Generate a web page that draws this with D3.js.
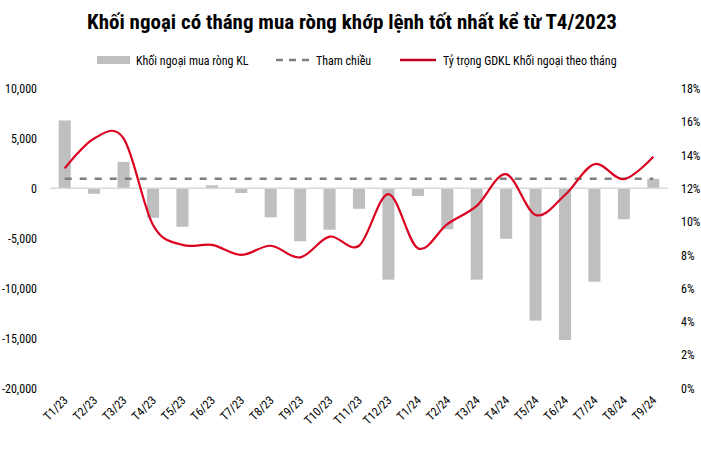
<!DOCTYPE html>
<html>
<head>
<meta charset="utf-8">
<script src="https://cdn.jsdelivr.net/npm/d3@7"></script>
<style>
  html, body { margin: 0; padding: 0; background: #fff; }
  svg { display: block; }
  text { font-family: "Liberation Sans Narrow", "Arial Narrow", "Roboto Condensed", "Liberation Sans", Arial, sans-serif; fill: #000; }
</style>
</head>
<body>
<svg id="chart" width="701" height="451"></svg>
<script>
// ---- data ----
const categories = ["T1/23","T2/23","T3/23","T4/23","T5/23","T6/23","T7/23","T8/23","T9/23","T10/23","T11/23","T12/23",
                    "T1/24","T2/24","T3/24","T4/24","T5/24","T6/24","T7/24","T8/24","T9/24"];
// Khối ngoại mua ròng KL (tỷ đồng)
const netBuy = [6800, -550, 2650, -2950, -3850, 300, -470, -2900, -5300, -4150, -2050, -9150,
                -770, -4100, -9150, -5050, -13250, -15200, -9350, -3100, 950];
// Tham chiếu (constant reference level)
const reference = categories.map(() => 950);
// Tỷ trọng GDKL Khối ngoại theo tháng (%)
const share = [13.2, 15.0, 15.0, 9.8, 8.6, 8.6, 8.0, 8.55, 7.85, 9.1, 8.55, 11.65,
               8.4, 9.85, 10.95, 12.85, 10.4, 11.6, 13.45, 12.55, 13.9];
const leftTicks = [10000, 5000, 0, -5000, -10000, -15000, -20000];
const leftTickLabels = ["10,000", "5,000", "0", "-5,000", "-10,000", "-15,000", "-20,000"];
const rightTicks = [0, 2, 4, 6, 8, 10, 12, 14, 16, 18];
const rightTickLabels = ["0%", "2%", "4%", "6%", "8%", "10%", "12%", "14%", "16%", "18%"];
const titleText = "Khối ngoại có tháng mua ròng khớp lệnh tốt nhất kể từ T4/2023";
const legendLabels = ["Khối ngoại mua ròng KL", "Tham chiều", "Tỷ trọng GDKL Khối ngoại theo tháng"];

// ---- layout ----
const svg = d3.select("#chart");
const plotLeft = 50, plotRight = 668, plotTop = 88.5, plotBottom = 388;

const x = d3.scaleBand().domain(categories).range([plotLeft, plotRight])
  .paddingInner(0.59).paddingOuter(0.295);
const yL = d3.scaleLinear().domain([-20000, 10000]).range([plotBottom, plotTop]);
const yR = d3.scaleLinear().domain([0, 18]).range([plotBottom, plotTop]);
const cx = d => x(d) + x.bandwidth() / 2;

// title
svg.append("text")
  .attr("x", 352).attr("y", 29)
  .attr("text-anchor", "middle")
  .style("font-size", "21px").style("font-weight", "bold")
  .text(titleText);

// legend
const lg = svg.append("g");
lg.append("rect").attr("x", 97).attr("y", 56).attr("width", 33).attr("height", 8).attr("fill", "#bfbfbf");
lg.append("text").attr("x", 136).attr("y", 64.5).style("font-size", "12px").text(legendLabels[0]);
lg.append("line").attr("x1", 276).attr("x2", 311).attr("y1", 60).attr("y2", 60)
  .attr("stroke", "#7f7f7f").attr("stroke-width", 2.5).attr("stroke-dasharray", "7,6");
lg.append("text").attr("x", 316).attr("y", 64.5).style("font-size", "12px").text(legendLabels[1]);
lg.append("line").attr("x1", 400).attr("x2", 436).attr("y1", 60).attr("y2", 60)
  .attr("stroke", "#c00020").attr("stroke-width", 2.5);
lg.append("text").attr("x", 443).attr("y", 64.5).style("font-size", "12px").text(legendLabels[2]);

// left axis
const axL = d3.axisLeft(yL).tickValues(leftTicks).tickSize(0).tickPadding(0)
  .tickFormat((d, i) => leftTickLabels[leftTicks.indexOf(d)]);
const gL = svg.append("g").attr("transform", "translate(37,0)").call(axL);
gL.select(".domain").remove();
gL.selectAll("text").style("font-size", "12px").style("font-family", null).attr("fill", "#000").attr("dy", "0.35em");

// right axis
const axR = d3.axisRight(yR).tickValues(rightTicks).tickSize(0).tickPadding(0)
  .tickFormat(d => rightTickLabels[rightTicks.indexOf(d)]);
const gR = svg.append("g").attr("transform", "translate(681,0)").call(axR);
gR.select(".domain").remove();
gR.selectAll("text").style("font-size", "12px").style("font-family", null).attr("fill", "#000").attr("dy", "0.35em");

// bars
svg.append("g").selectAll("rect").data(categories).join("rect")
  .attr("x", d => x(d))
  .attr("width", x.bandwidth())
  .attr("y", (d, i) => yL(Math.max(0, netBuy[i])))
  .attr("height", (d, i) => Math.abs(yL(netBuy[i]) - yL(0)))
  .attr("fill", "#bfbfbf");

// zero line
svg.append("line").attr("x1", plotLeft).attr("x2", plotRight)
  .attr("y1", yL(0)).attr("y2", yL(0))
  .attr("stroke", "#d9d9d9").attr("stroke-width", 1.5);

// reference dashed line
svg.append("path")
  .attr("d", d3.line().x((d, i) => cx(categories[i])).y(d => yL(d))(reference))
  .attr("fill", "none").attr("stroke", "#7f7f7f").attr("stroke-width", 2.5)
  .attr("stroke-dasharray", "7,8");

// share line
svg.append("path")
  .attr("d", d3.line().curve(d3.curveCatmullRom.alpha(0))
    .x((d, i) => cx(categories[i])).y(d => yR(d))(share))
  .attr("fill", "none").attr("stroke", "#dc0020").attr("stroke-width", 2.2);

// x labels
svg.append("g").selectAll("text").data(categories).join("text")
  .attr("transform", d => `translate(${cx(d) + 4},${plotBottom + 13}) rotate(-45)`)
  .attr("text-anchor", "end")
  .style("font-size", "12px")
  .text(d => d);
</script>
</body>
</html>
